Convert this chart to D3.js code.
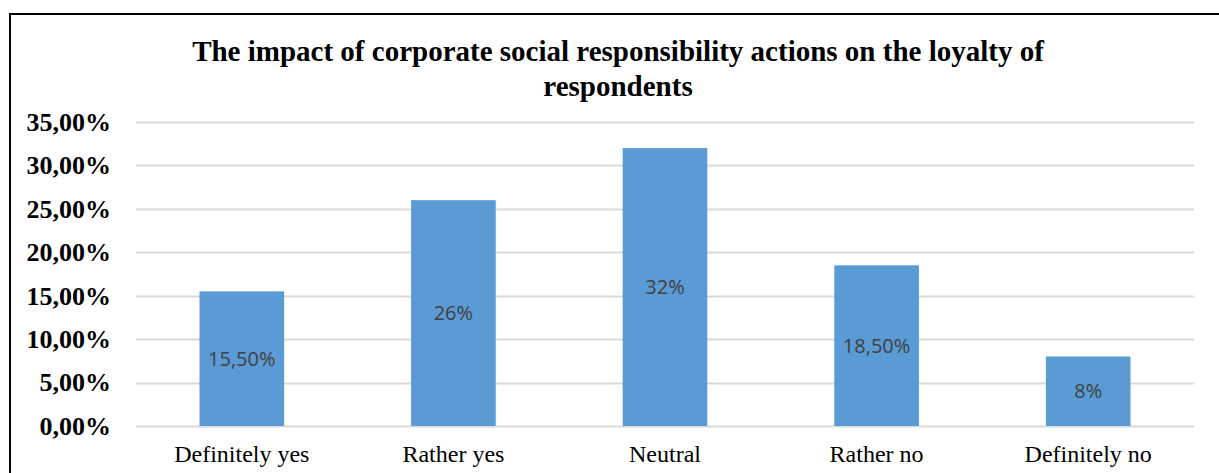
<!DOCTYPE html>
<html>
<head>
<meta charset="utf-8">
<script src="https://cdn.jsdelivr.net/npm/d3@7"></script>
<style>
  html, body { margin: 0; padding: 0; background: #fff; }
  svg { display: block; }
</style>
</head>
<body>
<div id="chart"></div>
<script>
// chart data
const categories = ['Definitely yes', 'Rather yes', 'Neutral', 'Rather no', 'Definitely no'];
const values = [15.5, 26, 32, 18.5, 8];
const valueLabels = ['15,50%', '26%', '32%', '18,50%', '8%'];
const yTicks = [0, 5, 10, 15, 20, 25, 30, 35];
const titleLines = ['The impact of corporate social responsibility actions on the loyalty of', 'respondents'];

const W = 1219, H = 473;
const plot = { left: 136, right: 1194, top: 122, bottom: 426 };
const serif = '"Liberation Serif", "Times New Roman", serif';

const svg = d3.select('#chart').append('svg')
    .attr('width', W).attr('height', H);

// frame (only top and left edges are visible in the picture)
svg.append('path')
    .attr('d', `M10,${H} L10,14 L${W},14`)
    .attr('fill', 'none').attr('stroke', '#000').attr('stroke-width', 2);

const x = d3.scaleBand().domain(categories)
    .range([plot.left, plot.right]).paddingInner(0.6).paddingOuter(0.3);
const y = d3.scaleLinear().domain([0, 35]).range([plot.bottom, plot.top]);

// title
svg.append('g').selectAll('text').data(titleLines).join('text')
    .attr('x', 618).attr('y', (d, i) => 61 + i * 35)
    .attr('text-anchor', 'middle')
    .attr('font-family', serif)
    .attr('font-weight', 700).attr('font-size', 29)
    .text(d => d);

// gridlines
svg.append('g').selectAll('line').data(yTicks).join('line')
    .attr('x1', plot.left).attr('x2', plot.right)
    .attr('y1', d => Math.round(y(d)) + 0.5).attr('y2', d => Math.round(y(d)) + 0.5)
    .attr('stroke', '#d9d9d9').attr('stroke-width', 2);

// y axis labels
const yAxis = svg.append('g').attr('transform', `translate(${plot.left - 25},0)`)
    .call(d3.axisLeft(y).tickValues(yTicks).tickSize(0).tickPadding(0)
        .tickFormat(d => d.toFixed(2).replace('.', ',') + '%'));
yAxis.select('.domain').remove();
yAxis.selectAll('text')
    .attr('font-family', serif)
    .attr('font-weight', 700).attr('font-size', 26).attr('fill', '#000')
    .attr('dy', '0.32em');

// bars
svg.append('g').selectAll('rect').data(values).join('rect')
    .attr('x', (d, i) => x(categories[i]))
    .attr('width', x.bandwidth())
    .attr('y', d => y(d))
    .attr('height', d => y(0) - y(d))
    .attr('fill', '#5b9bd5');

// data labels, centered in the bar
svg.append('g').selectAll('text').data(values).join('text')
    .attr('x', (d, i) => x(categories[i]) + x.bandwidth() / 2)
    .attr('y', d => (y(d) + y(0)) / 2)
    .attr('dy', '0.36em')
    .attr('text-anchor', 'middle')
    .attr('font-family', '"Open Sans", "Noto Sans", sans-serif')
    .attr('font-size', 20).attr('fill', '#404040')
    .text((d, i) => valueLabels[i]);

// x axis labels
const xAxis = svg.append('g').attr('transform', `translate(0,${plot.bottom})`)
    .call(d3.axisBottom(x).tickSize(0).tickPadding(0));
xAxis.select('.domain').remove();
xAxis.selectAll('text')
    .attr('font-family', serif)
    .attr('font-size', 24).attr('fill', '#000')
    .attr('y', 36).attr('dy', 0);
</script>
</body>
</html>
